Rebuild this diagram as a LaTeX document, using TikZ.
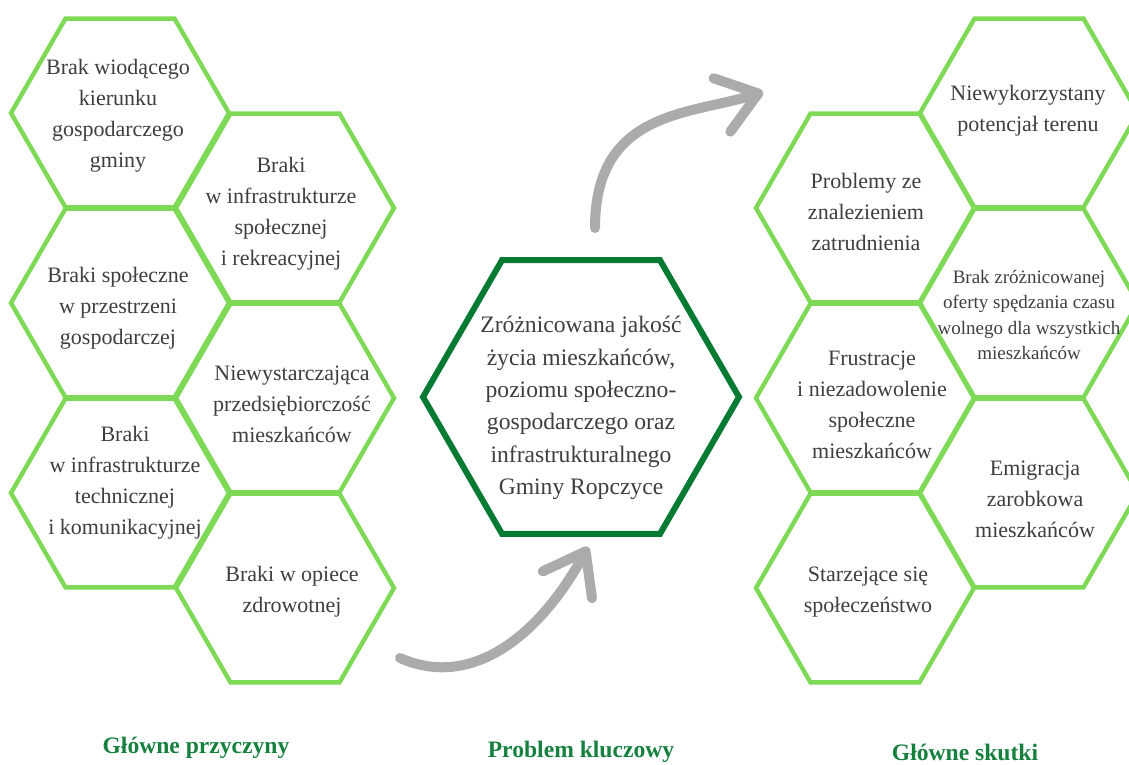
\documentclass[tikz,border=0pt]{standalone}
\usepackage{fontspec}
\setmainfont{Liberation Serif}
\usetikzlibrary{shapes.geometric,arrows.meta}
\definecolor{hexgreen}{RGB}{126,217,87}
\definecolor{keygreen}{RGB}{5,122,50}
\definecolor{titlegreen}{RGB}{22,128,62}
\definecolor{cellgray}{RGB}{62,62,62}

\begin{document}
\begin{tikzpicture}[x=0.5pt,y=-0.5pt,
  hexcell/.style={regular polygon,regular polygon sides=6,minimum size=109pt,inner sep=0pt,draw=hexgreen,line width=2.2pt},
  keyhex/.style={regular polygon,regular polygon sides=6,minimum size=158pt,inner sep=0pt,draw=keygreen,line width=3pt},
  celltext/.style={align=center,text=cellgray,inner sep=0pt,font=\fontsize{11}{15.5}\selectfont},
  grouptitle/.style={text=titlegreen,inner sep=0pt,font=\fontsize{11.8}{14}\selectfont\bfseries},
  flow/.style={draw=black!33,line width=5pt,line cap=round,-{Straight Barb[length=19pt,width=28pt,round]}}]
\useasboundingbox (0,0) rectangle (1129,765);
% causes
\node[hexcell] (c1) at (120,113) {};
\node[hexcell] (c2) at (285,208) {};
\node[hexcell] (c3) at (120,303) {};
\node[hexcell] (c4) at (285,398) {};
\node[hexcell] (c5) at (120,493) {};
\node[hexcell] (c6) at (285,588) {};
\node[celltext] (c1t) at (118,116) {Brak wiodącego\\kierunku\\gospodarczego\\gminy};
\node[celltext] (c2t) at (281,214) {Braki\\w infrastrukturze\\społecznej\\i rekreacyjnej};
\node[celltext] (c3t) at (118,308) {Braki społeczne\\w przestrzeni\\gospodarczej};
\node[celltext] (c4t) at (292,404) {Niewystarczająca\\przedsiębiorczość\\mieszkańców};
\node[celltext] (c5t) at (125,483) {Braki\\w infrastrukturze\\technicznej\\i komunikacyjnej};
\node[celltext] (c6t) at (292,592) {Braki w opiece\\zdrowotnej};
% key problem
\node[keyhex] (key) at (581,397) {};
\node[celltext,font=\fontsize{11.8}{16.2}\selectfont] (keyt) at (581,408) {Zróżnicowana jakość\\życia mieszkańców,\\poziomu społeczno-\\gospodarczego oraz\\infrastrukturalnego\\Gminy Ropczyce};
% effects
\node[hexcell] (e1) at (1029,113) {};
\node[hexcell] (e2) at (865,208) {};
\node[hexcell] (e3) at (1029,303) {};
\node[hexcell] (e4) at (865,398) {};
\node[hexcell] (e5) at (1029,493) {};
\node[hexcell] (e6) at (865,588) {};
\node[celltext] (e1t) at (1028,111) {Niewykorzystany\\potencjał terenu};
\node[celltext] (e2t) at (866,212) {Problemy ze\\znalezieniem\\zatrudnienia};
\node[celltext,font=\fontsize{9.5}{12.8}\selectfont] (e3t) at (1029,315) {Brak zróżnicowanej\\oferty spędzania czasu\\wolnego dla wszystkich\\mieszkańców};
\node[celltext] (e4t) at (872,405) {Frustracje\\i niezadowolenie\\społeczne\\mieszkańców};
\node[celltext] (e5t) at (1035,499) {Emigracja\\zarobkowa\\mieszkańców};
\node[celltext] (e6t) at (868,592) {Starzejące się\\społeczeństwo};
% arrows
\coordinate (lowtail) at (400,658);
\coordinate (lowtip) at (588,547);
\coordinate (uptail) at (595,228);
\coordinate (uptip) at (763,92);
\draw[flow] (lowtail) .. controls (472,690) and (540,635) .. (lowtip);
\draw[flow] (uptail) .. controls (595,110) and (690,115) .. (uptip);
% titles
\node[grouptitle] (causes) at (196,748) {Główne przyczyny};
\node[grouptitle] (keytitle) at (581,752) {Problem kluczowy};
\node[grouptitle] (effects) at (965,752) {Główne skutki};
\end{tikzpicture}
\end{document}
